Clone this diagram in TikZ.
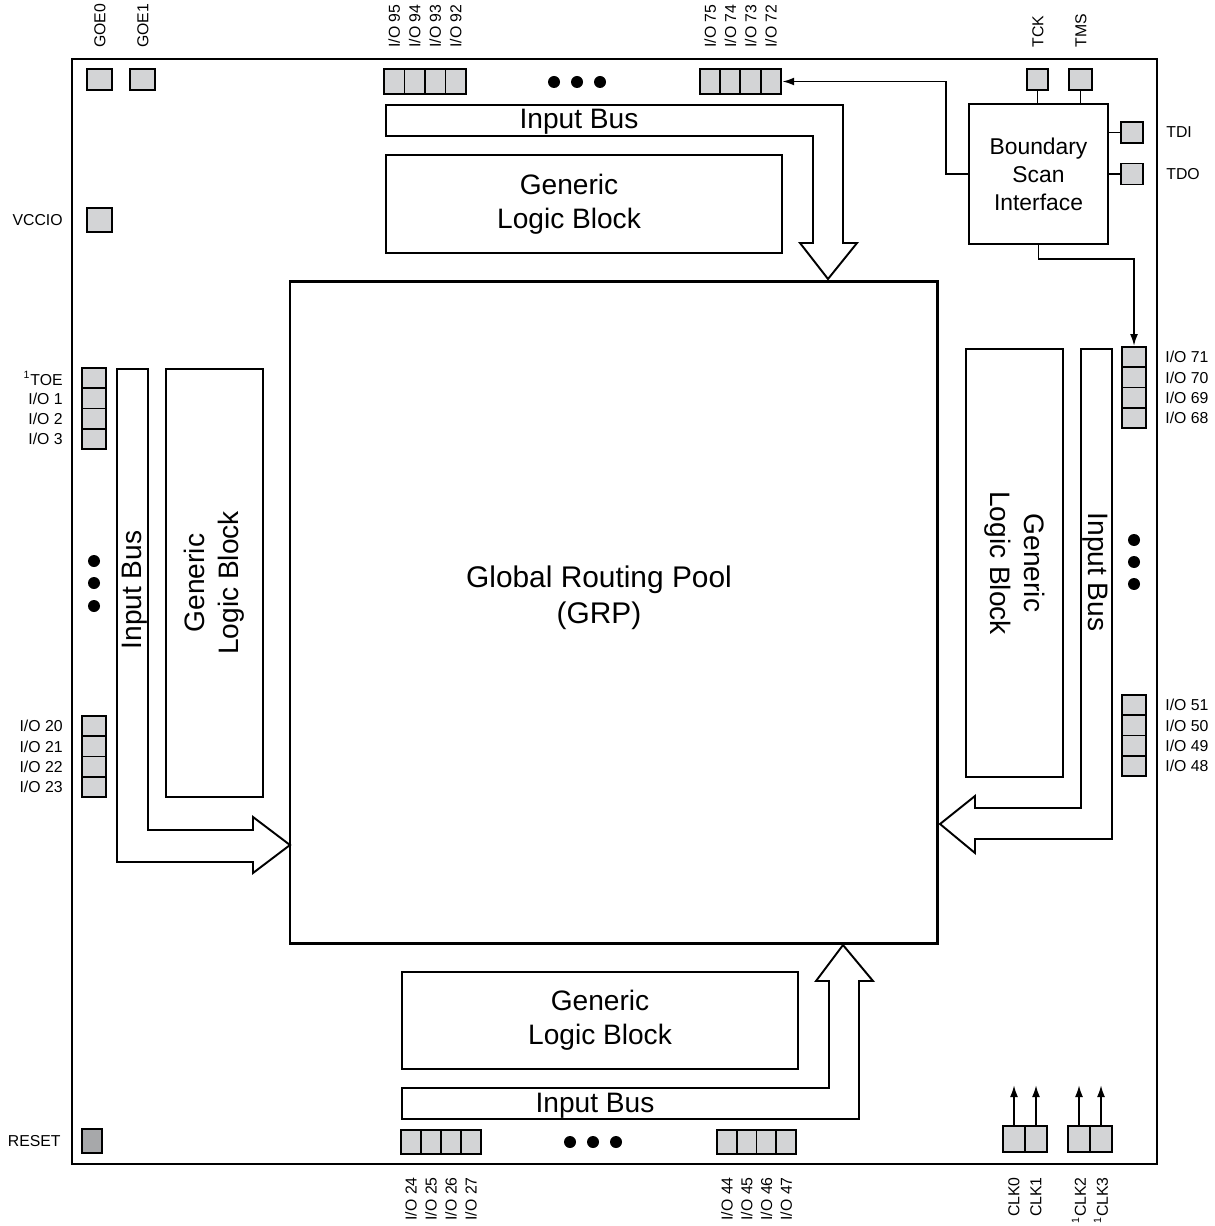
\documentclass[tikz,border=0pt]{standalone}
\usepackage{fontspec}
\setmainfont{Liberation Sans}
\usetikzlibrary{positioning,arrows.meta,calc}
\definecolor{padgray}{HTML}{D3D4D6}
\definecolor{padgrayd}{HTML}{A7A8AA}

\begin{document}
\begin{tikzpicture}[x=0.2mm, y=-0.2mm,
    pad/.style={draw, line width=1.1pt, fill=padgray, inner sep=0pt, minimum width=0.41cm, minimum height=0.49cm},
    padv/.style={pad, minimum width=0.48cm, minimum height=0.405cm},
    block/.style={draw, line width=1.1pt, align=center, inner sep=0pt, font=\fontsize{16}{19.5}\selectfont},
    bus/.style={draw, line width=1.1pt, fill=white},
    buslabel/.style={inner sep=0pt, font=\fontsize{16}{19.5}\selectfont},
    pinlabel/.style={inner sep=0pt, font=\fontsize{9}{10}\selectfont},
    dot/.style={circle, fill, inner sep=0pt, minimum size=0.24cm},
    wire/.style={line width=1.1pt},
    sigarrow/.style={line width=1.1pt, -{Latex[length=2.4mm,width=1.6mm]}},
]
\useasboundingbox (0,0) rectangle (1214,1226);

% chip outline
\draw[line width=1.4pt] (72,59) rectangle (1157,1164);

% global routing pool
\node[draw, line width=1.7pt, minimum width=12.94cm, minimum height=13.22cm] (grp) at (613.5,612.5) {};
\node[align=center, inner sep=0pt, font=\fontsize{17}{20.5}\selectfont] (grptxt) at (599,598) {Global Routing Pool\\(GRP)};

% generic logic blocks
\node[block, minimum width=7.92cm, minimum height=1.96cm] (glbtop) at (584,204) {\hspace*{-0.6cm}Generic\\\hspace*{-0.6cm}Logic Block};
\node[block, minimum width=7.92cm, minimum height=1.94cm] (glbbot) at (600,1020.5) {Generic\\Logic Block};
\node[block, rotate=90, minimum width=8.56cm, minimum height=1.94cm] (glbleft) at (214.5,583) {Generic\\Logic Block};
\node[block, rotate=-90, minimum width=8.56cm, minimum height=1.94cm] (glbright) at (1014.5,563) {Generic\\Logic Block};

% input buses
\draw[bus] (386,105) -- (843,105) -- (843,243) -- (857,243) -- (828,279) -- (800,243) -- (813,243) -- (813,136) -- (386,136) -- cycle;
\node[buslabel] (bustop) at (579,122) {Input Bus};
\draw[bus] (402,1119) -- (859,1119) -- (859,981) -- (873,981) -- (843,945) -- (816,981) -- (829,981) -- (829,1088) -- (402,1088) -- cycle;
\node[buslabel] (busbot) at (595,1106) {Input Bus};
\draw[bus] (117,369) -- (148,369) -- (148,830) -- (253,830) -- (253,817) -- (290,845) -- (253,873) -- (253,862) -- (117,862) -- cycle;
\node[buslabel, rotate=90] (busleft) at (134.5,590) {Input Bus};
\draw[bus] (1081,349) -- (1112,349) -- (1112,839) -- (975,839) -- (975,853) -- (940,824) -- (975,796) -- (975,808) -- (1081,808) -- cycle;
\node[buslabel, rotate=-90] (busright) at (1095,572) {Input Bus};

% single pins
\node[pad, minimum width=0.5cm, minimum height=0.42cm] (goe0) at (99.5,79.5) {};
\node[pad, minimum width=0.5cm, minimum height=0.42cm] (goe1) at (142.5,79.5) {};
\node[pinlabel, rotate=90, anchor=west] (lgoe0) at (100,48) {GOE0};
\node[pinlabel, rotate=90, anchor=west] (lgoe1) at (143,48) {GOE1};
\node[pad, minimum width=0.5cm, minimum height=0.48cm] (vccio) at (99.5,220) {};
\node[pinlabel, anchor=east] (lvccio) at (63,220) {VCCIO};
\node[pad, fill=padgrayd, minimum width=0.4cm, minimum height=0.48cm] (reset) at (92,1141) {};
\node[pinlabel, anchor=east] (lreset) at (61,1141) {RESET};

% top i/o
\foreach \n [count=\i from 0] in {95,94,93,92} {
  \node[pad] (io\n) at ({394.25+20.5*\i},81.5) {};
  \node[pinlabel, rotate=90, anchor=west] (l\n) at ({394.25+20.5*\i},48) {I/O \n};
}
\foreach \n [count=\i from 0] in {75,74,73,72} {
  \node[pad] (io\n) at ({710.1+20.3*\i},81.5) {};
  \node[pinlabel, rotate=90, anchor=west] (l\n) at ({710.1+20.3*\i},48) {I/O \n};
}
\node[dot] (dt1) at (554,82) {};
\node[dot] (dt2) at (577,82) {};
\node[dot] (dt3) at (600,82) {};

% bottom i/o
\foreach \n [count=\i from 0] in {24,25,26,27} {
  \node[pad, minimum width=0.4cm, minimum height=0.48cm] (io\n) at ({411+20*\i},1142) {};
  \node[pinlabel, rotate=90, anchor=east] (l\n) at ({411+20*\i},1177) {I/O \n};
}
\foreach \n [count=\i from 0] in {44,45,46,47} {
  \node[pad, minimum width=0.4cm, minimum height=0.48cm] (io\n) at ({727+19.75*\i},1142) {};
  \node[pinlabel, rotate=90, anchor=east] (l\n) at ({727+19.75*\i},1177) {I/O \n};
}
\node[dot] (db1) at (570,1142) {};
\node[dot] (db2) at (593,1142) {};
\node[dot] (db3) at (616,1142) {};

% left i/o
\foreach \lab [count=\i from 0] in {\textsuperscript{1}TOE, I/O 1, I/O 2, I/O 3} {
  \node[padv] (lt\i) at (94,{378.1+20.25*\i}) {};
  \node[pinlabel, anchor=east] (llt\i) at (63,{378.1+20.25*\i}) {\lab};
}
\foreach \n [count=\i from 0] in {20,21,22,23} {
  \node[padv] (io\n) at (94,{726.1+20.25*\i}) {};
  \node[pinlabel, anchor=east] (l\n) at (63,{726.1+20.25*\i}) {I/O \n};
}
\node[dot] (dl1) at (94,561) {};
\node[dot] (dl2) at (94,583) {};
\node[dot] (dl3) at (94,606) {};

% right i/o
\foreach \n [count=\i from 0] in {71,70,69,68} {
  \node[padv] (io\n) at (1134,{357.1+20.25*\i}) {};
  \node[pinlabel, anchor=west] (l\n) at (1165,{357.1+20.25*\i}) {I/O \n};
}
\foreach \n [count=\i from 0] in {51,50,49,48} {
  \node[padv] (io\n) at (1134,{705.1+20.25*\i}) {};
  \node[pinlabel, anchor=west] (l\n) at (1165,{705.1+20.25*\i}) {I/O \n};
}
\node[dot] (dr1) at (1134,540) {};
\node[dot] (dr2) at (1134,562) {};
\node[dot] (dr3) at (1134,584) {};

% boundary scan
\node[block, font=\fontsize{13}{16}\selectfont, minimum width=2.78cm, minimum height=2.8cm] (bsi) at (1038.5,174) {Boundary\\Scan\\Interface};
\node[pad, minimum width=0.42cm, minimum height=0.42cm] (tck) at (1037.5,79.5) {};
\node[pad, minimum width=0.45cm, minimum height=0.42cm] (tms) at (1080.5,79.5) {};
\node[pad, minimum width=0.44cm, minimum height=0.42cm] (tdi) at (1132,132.5) {};
\node[pad, minimum width=0.44cm, minimum height=0.42cm] (tdo) at (1132,174) {};
\node[pinlabel, rotate=90, anchor=west] (ltck) at (1038,48) {TCK};
\node[pinlabel, rotate=90, anchor=west] (ltms) at (1081,48) {TMS};
\node[pinlabel, anchor=west] (ltdi) at (1166,132.5) {TDI};
\node[pinlabel, anchor=west] (ltdo) at (1166,174) {TDO};
\draw[wire] (tck.south) -- (tck.south |- bsi.north);
\draw[wire] (tms.south) -- (tms.south |- bsi.north);
\draw[wire] (tdi.west) -- (tdi.west -| bsi.east);
\draw[wire] (tdo.west) -- (tdo.west -| bsi.east);
\draw[sigarrow] (bsi.west) -- ++(-22,0) |- (io72.east);
\draw[sigarrow] (bsi.south) -- ++(0,14) -| (io71.north);

% clocks
\foreach \n/\x in {0/1014,1/1036,2/1079,3/1101} {
  \node[pad, minimum width=0.44cm, minimum height=0.52cm] (clk\n) at (\x,1139) {};
  \draw[sigarrow] (clk\n.north) -- ++(0,-40);
}
\node[pinlabel, rotate=90, anchor=east] (lclk0) at (1014,1177) {CLK0};
\node[pinlabel, rotate=90, anchor=east] (lclk1) at (1036,1177) {CLK1};
\node[pinlabel, rotate=90, anchor=east] (lclk2) at (1079,1177) {\textsuperscript{1}CLK2};
\node[pinlabel, rotate=90, anchor=east] (lclk3) at (1101,1177) {\textsuperscript{1}CLK3};
\end{tikzpicture}
\end{document}
